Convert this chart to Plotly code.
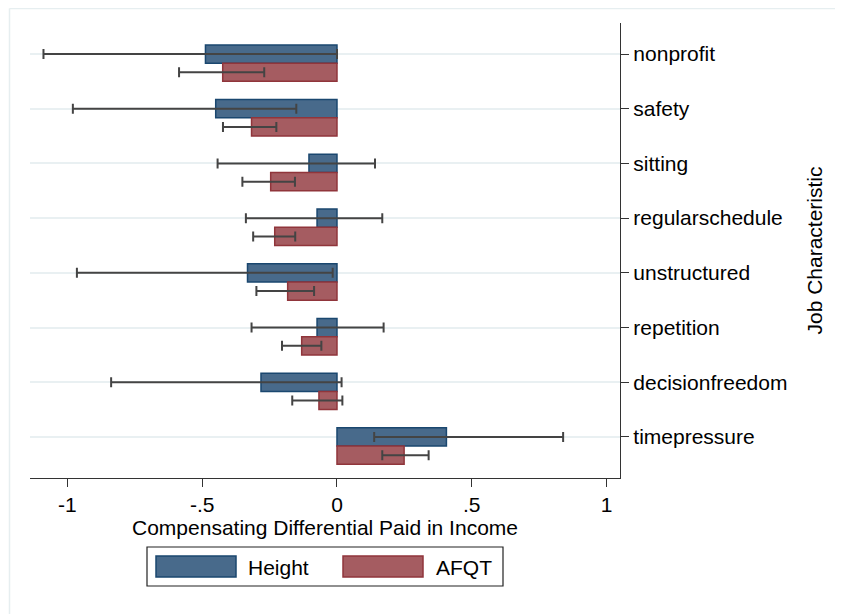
import plotly.graph_objects as go

categories = ["nonprofit", "safety", "sitting", "regularschedule",
              "unstructured", "repetition", "decisionfreedom", "timepressure"]

height_coef = [-0.488, -0.450, -0.104, -0.074, -0.332, -0.074, -0.282, 0.406]
height_lo   = [-1.089, -0.980, -0.443, -0.338, -0.965, -0.317, -0.838, 0.138]
height_hi   = [0.000, -0.151, 0.141, 0.168, -0.016, 0.173, 0.017, 0.839]

afqt_coef = [-0.424, -0.317, -0.246, -0.231, -0.183, -0.131, -0.067, 0.249]
afqt_lo   = [-0.586, -0.423, -0.351, -0.311, -0.299, -0.204, -0.166, 0.168]
afqt_hi   = [-0.270, -0.225, -0.156, -0.155, -0.085, -0.058, 0.020, 0.340]

x_tickvals = [-1, -0.5, 0, 0.5, 1]
x_ticktext = ["-1", "-.5", "0", ".5", "1"]

BLUE_FILL = "rgb(72,106,139)"
BLUE_LINE = "rgb(26,71,111)"
RED_FILL = "rgb(165,92,97)"
RED_LINE = "rgb(144,53,59)"
ERR = "#444444"
FONT = "Liberation Sans, Arial, Helvetica, sans-serif"
FS = 21

bw = 1 / 3
pos = list(range(len(categories)))

fig = go.Figure()
fig.add_trace(go.Bar(
    x=height_coef, y=[p for p in pos], orientation="h", width=bw,
    marker=dict(color=BLUE_FILL, line=dict(color=BLUE_LINE, width=1.5)),
    error_x=dict(type="data", symmetric=False,
                 array=[h - c for h, c in zip(height_hi, height_coef)],
                 arrayminus=[c - l for l, c in zip(height_lo, height_coef)],
                 color=ERR, thickness=2, width=5),
    name="Height", showlegend=False))
fig.add_trace(go.Bar(
    x=afqt_coef, y=[p + bw for p in pos], orientation="h", width=bw,
    marker=dict(color=RED_FILL, line=dict(color=RED_LINE, width=1.5)),
    error_x=dict(type="data", symmetric=False,
                 array=[h - c for h, c in zip(afqt_hi, afqt_coef)],
                 arrayminus=[c - l for l, c in zip(afqt_lo, afqt_coef)],
                 color=ERR, thickness=2, width=5),
    name="AFQT", showlegend=False))

# page is offset by the 8px body margin
OFF = 8
W, H = 843 - OFF, 614 - OFF
L, R, T, B = 30 - OFF, 223, 23 - OFF, 136
pw, ph = W - L - R, H - T - B


def px(x):
    return (x - OFF - L) / pw


def py(y):
    return (H - B - (y - OFF)) / ph


shapes = [
    # faint outer frame (left and top edges)
    dict(type="line", xref="paper", yref="paper", x0=px(9.5), x1=px(9.5), y0=py(8.5), y1=py(700),
         line=dict(color="#e6eef0", width=1.5), layer="below"),
    dict(type="line", xref="paper", yref="paper", x0=px(9.5), x1=px(900), y0=py(8.5), y1=py(8.5),
         line=dict(color="#e6eef0", width=1.5), layer="below"),
    # legend box
    dict(type="rect", xref="paper", yref="paper", x0=px(147), x1=px(503), y0=py(547), y1=py(586),
         line=dict(color="#222222", width=1.2), fillcolor="white"),
    dict(type="rect", xref="paper", yref="paper", x0=px(156), x1=px(236), y0=py(556), y1=py(577),
         line=dict(color=BLUE_LINE, width=1.5), fillcolor=BLUE_FILL),
    dict(type="rect", xref="paper", yref="paper", x0=px(343), x1=px(423), y0=py(556), y1=py(577),
         line=dict(color=RED_LINE, width=1.5), fillcolor=RED_FILL),
]
annotations = [
    dict(text="Height", xref="paper", yref="paper", x=px(246), y=py(567), xanchor="left",
         yanchor="middle", showarrow=False, font=dict(family=FONT, size=FS, color="black")),
    dict(text="AFQT", xref="paper", yref="paper", x=px(434), y=py(567), xanchor="left",
         yanchor="middle", showarrow=False, font=dict(family=FONT, size=FS, color="black")),
]

fig.update_layout(
    width=W, height=H,
    margin=dict(l=L, r=R, t=T, b=B),
    paper_bgcolor="white", plot_bgcolor="white",
    font=dict(family=FONT, size=FS, color="black"),
    barmode="overlay",
    shapes=shapes, annotations=annotations,
    xaxis=dict(range=[-1.139, 1.05], tickvals=x_tickvals, ticktext=x_ticktext,
               showgrid=False, zeroline=False, showline=True, linecolor="#333333", linewidth=1.3,
               ticks="outside", ticklen=8, tickcolor="#333333", tickwidth=1.2,
               tickfont=dict(size=FS),
               title=dict(text="Compensating Differential Paid in Income", font=dict(size=FS), standoff=0)),
    yaxis=dict(range=[7.75, -0.567], tickvals=pos, ticktext=categories, side="right",
               showgrid=True, gridcolor="#e9f0f2", gridwidth=1.5, zeroline=False,
               showline=True, linecolor="#333333", linewidth=1.3,
               ticks="outside", ticklen=8, tickcolor="#333333", tickwidth=1.2,
               tickfont=dict(size=FS),
               title=dict(text="Job Characteristic", font=dict(size=FS), standoff=20)),
)

fig.write_html("out.html")
